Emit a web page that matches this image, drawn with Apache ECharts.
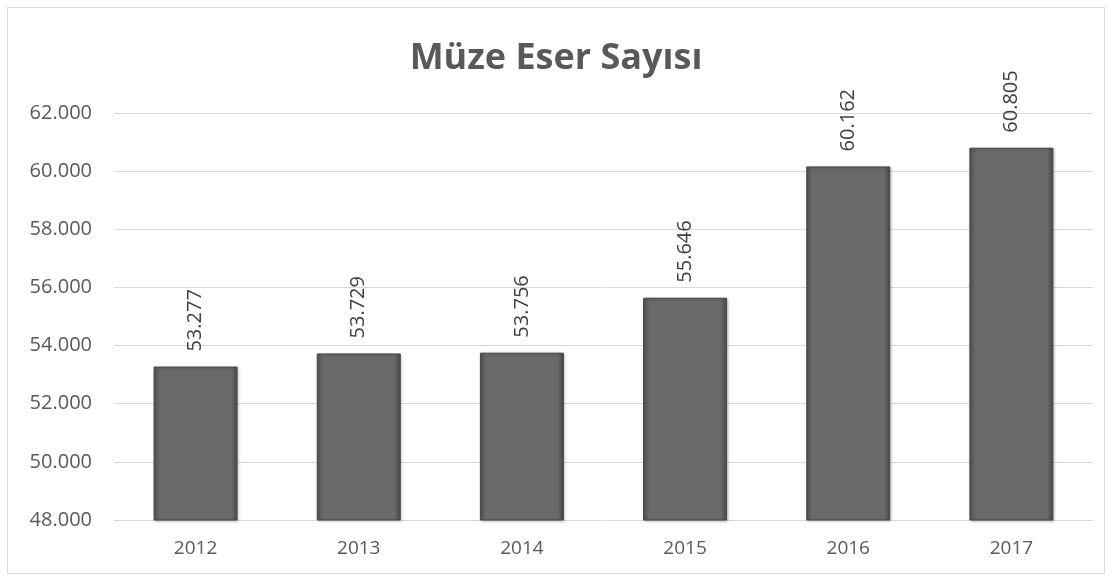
<!DOCTYPE html>
<html>
<head>
<meta charset="utf-8">
<script src="https://cdn.jsdelivr.net/npm/echarts@6/dist/echarts.min.js"></script>
<style>
  html, body { margin: 0; padding: 0; background: #fff; }
  #chart {
    position: absolute;
    left: 7px; top: 7px;
    width: 1098px; height: 567px;
    border: 1px solid #d9d9d9;
    box-sizing: border-box;
  }
</style>
</head>
<body>
<div id="chart"></div>
<script>
// data
const years = ['2012', '2013', '2014', '2015', '2016', '2017']
const eserSayisi = [53277, 53729, 53756, 55646, 60162, 60805]

const yMin = 48000
const yMax = 62000
const yStep = 2000

// 53277 -> "53.277"
function fmt(v) {
  return v.toLocaleString('de-DE')
}

const chart = echarts.init(document.getElementById('chart'))

const option = {
  animation: false,
  textStyle: { fontFamily: 'Open Sans, Noto Sans, sans-serif' },
  title: {
    text: 'Müze Eser Sayısı',
    left: 'center',
    top: 28,
    textStyle: { fontSize: 36, fontWeight: 'bold', color: '#595959' }
  },
  grid: { left: 106, right: 11, top: 105, bottom: 53 },
  xAxis: {
    type: 'category',
    data: years,
    axisLine: { lineStyle: { color: '#d9d9d9' } },
    axisTick: { show: false },
    axisLabel: { color: '#595959', fontSize: 19, margin: 19 }
  },
  yAxis: {
    type: 'value',
    min: yMin,
    max: yMax,
    interval: yStep,
    axisLine: { show: false },
    axisTick: { show: false },
    splitLine: { lineStyle: { color: '#d9d9d9', width: 1 } },
    axisLabel: { color: '#595959', fontSize: 20, margin: 22, formatter: fmt }
  },
  series: [{
    type: 'bar',
    data: eserSayisi,
    barWidth: 84,
    itemStyle: {
      color: new echarts.graphic.LinearGradient(0, 0, 1, 0, [
        { offset: 0, color: '#555555' },
        { offset: 0.08, color: '#6a6a6a' },
        { offset: 0.92, color: '#6a6a6a' },
        { offset: 1, color: '#4a4a4a' }
      ]),
      borderColor: '#454545',
      borderWidth: 1,
      shadowColor: 'rgba(0,0,0,0.25)',
      shadowBlur: 3,
      shadowOffsetX: 1,
      shadowOffsetY: 1
    },
    label: {
      show: true,
      position: 'top',
      rotate: 90,
      align: 'left',
      verticalAlign: 'middle',
      distance: 15,
      color: '#404040',
      fontSize: 20,
      formatter: p => fmt(p.value)
    }
  }]
}

chart.setOption(option)
</script>
</body>
</html>
